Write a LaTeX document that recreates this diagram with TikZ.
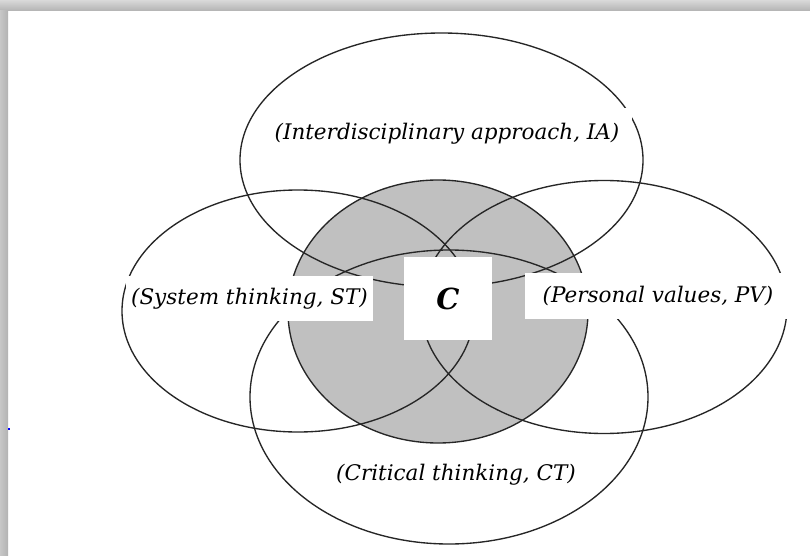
\documentclass[tikz,border=0pt]{standalone}
\usepackage{fontspec}
\setmainfont{DejaVu Serif}

\definecolor{core}{RGB}{192,192,192}

\tikzset{
  ring/.style={draw=black!85, line width=1.35pt},
  tag/.style={fill=white, inner sep=0pt, font=\fontsize{21.5}{24}\selectfont\itshape},
}

\begin{document}
\begin{tikzpicture}[x=1pt,y=-1pt]
      \useasboundingbox (0,0) rectangle (810,556);
      % page and its drop shadow
      \fill[white] (0,0) rectangle (810,556);
      \shade[top color=black!15, bottom color=black!30] (0,0) rectangle (810,11);
      \shade[left color=black!22, right color=black!30] (0,11) rectangle (8,556);
      \fill[blue] (8,428) rectangle (10,430);
      % core
      \draw[ring, fill=core] (438,311.5) ellipse [x radius=150pt, y radius=131.5pt];
      % the four fields
      \draw[ring] (441.5,160) ellipse [x radius=201.5pt, y radius=127pt];
      \draw[ring] (298,311) ellipse [x radius=176pt, y radius=121pt];
      \draw[ring] (604,307) ellipse [x radius=183pt, y radius=126.5pt];
      \draw[ring] (449,397) ellipse [x radius=199pt, y radius=147pt];
      % labels
      \node[tag, minimum width=370, minimum height=52] (ia) at (447,134) {(Interdisciplinary approach, IA)};
      \node[tag, minimum width=247, minimum height=45] (st) at (249.5,298.5) {(System thinking, ST)};
      \node[tag, minimum width=267, minimum height=46] (pv) at (658,296) {(Personal values, PV)};
      \node[tag, minimum width=262, minimum height=40] (ct) at (456,475) {(Critical thinking, CT)};
      \node[fill=white, minimum width=88, minimum height=83, font=\fontsize{29}{31}\selectfont\bfseries\itshape] (c) at (448,298.5) {C};
\end{tikzpicture}
\end{document}
